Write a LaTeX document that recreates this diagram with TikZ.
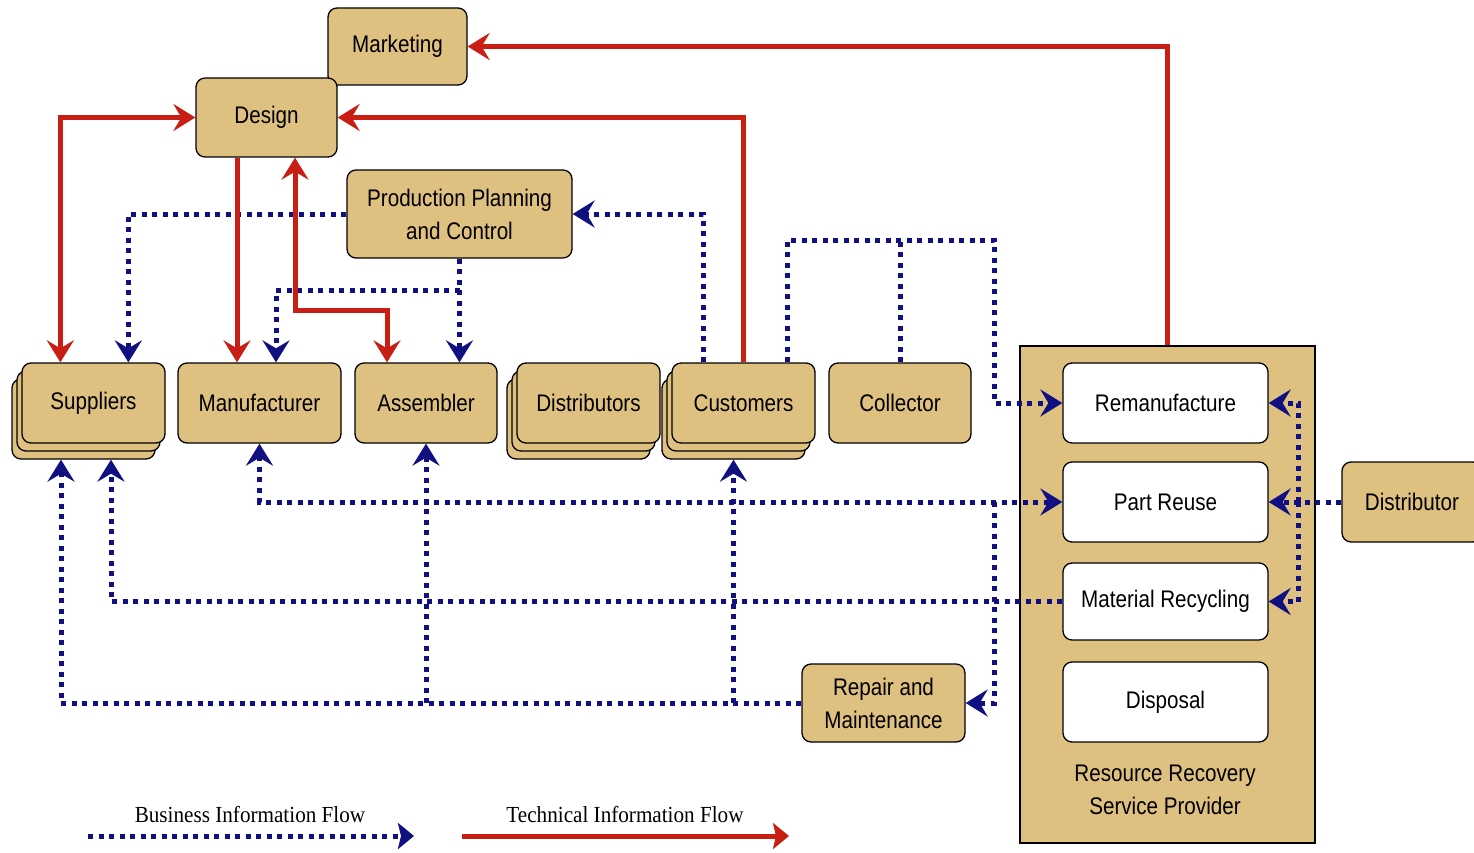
\documentclass[tikz,border=0pt]{standalone}
\usepackage{fontspec}
\setmainfont{Liberation Sans}[FakeStretch=0.86]
\newfontfamily\legendfont{Liberation Serif}[FakeStretch=0.92]
\usetikzlibrary{arrows.meta,calc}
\definecolor{boxtan}{RGB}{222,192,128}
\definecolor{techred}{RGB}{200,30,20}
\definecolor{biznavy}{RGB}{16,16,128}
\newcommand\boxtext{\fontsize{24}{33}\selectfont}
\begin{document}
\begin{tikzpicture}[x=1pt,y=-1pt,
  box/.style={draw=black, line width=1.3pt, fill=boxtan, rounded corners=9pt,
    inner sep=0pt, align=center, font=\boxtext},
  whitebox/.style={box, fill=white},
  layer/.style={box, minimum width=143pt, minimum height=80pt},
  plain/.style={draw=black, line width=1.3pt, fill=boxtan},
  biz/.style={draw=biznavy, line width=5pt, dash pattern=on 5pt off 5.5pt, line cap=butt,
    >={Stealth[length=22pt,width=27pt,inset=8pt]}},
  tech/.style={draw=techred, line width=5pt, line cap=butt,
    >={Stealth[length=22pt,width=27pt,inset=8pt]}},
  legtip/.style={>={Stealth[length=16pt,width=26pt,inset=3pt]}}
]
\useasboundingbox (0,0) rectangle (1474,853);
\clip (0,0) rectangle (1474,853);

% resource recovery container
\node[plain, minimum width=295pt, minimum height=497pt, inner sep=0pt] (rr) at (1167.5,594.5) {};
\node[font=\boxtext, align=center] (rrlabel) at (1165,790) {Resource Recovery\\Service Provider};

% upper boxes
\node[box, minimum width=139pt, minimum height=77pt] (mkt) at (397.5,46.5) {Marketing};
\node[box, minimum width=141pt, minimum height=79pt] (design) at (266.5,117.5) {Design};
\node[box, minimum width=225pt, minimum height=88pt] (ppc) at (459.5,214) {Production Planning\\and Control};

% stacked boxes: two layers behind the front one
\node[layer] (sup3) at (83.5,419) {};
\node[layer] (sup2) at (88.5,411) {};
\node[layer] (sup) at (93.5,403) {Suppliers};
\node[box, minimum width=163pt, minimum height=80pt] (manu) at (259.5,403) {Manufacturer};
\node[box, minimum width=142pt, minimum height=80pt] (asm) at (426,403) {Assembler};
\node[layer] (distr3) at (578.5,419) {};
\node[layer] (distr2) at (583.5,411) {};
\node[layer] (distr) at (588.5,403) {Distributors};
\node[layer] (cust3) at (733.5,419) {};
\node[layer] (cust2) at (738.5,411) {};
\node[layer] (cust) at (743.5,403) {Customers};
\node[box, minimum width=142pt, minimum height=80pt] (coll) at (900,403) {Collector};

% recovery options
\node[whitebox, minimum width=205pt, minimum height=80pt] (rem) at (1165.5,403) {Remanufacture};
\node[whitebox, minimum width=205pt, minimum height=80pt] (reuse) at (1165.5,502) {Part Reuse};
\node[whitebox, minimum width=205pt, minimum height=77pt] (recy) at (1165.5,601.5) {Material Recycling};
\node[whitebox, minimum width=205pt, minimum height=80pt] (disp) at (1165.5,702) {Disposal};

\node[box, minimum width=140pt, minimum height=80pt] (dist) at (1412,502) {Distributor};
\node[box, minimum width=163pt, minimum height=78pt] (rep) at (883.5,703) {Repair and\\Maintenance};

% business information flow
\draw[biz,->] (ppc.west) -| ([xshift=107pt]sup.north west);
\draw[biz,->] (ppc.south) -- (ppc.south |- asm.north);
\draw[biz,->] ([yshift=-32pt]ppc.south) -| ([xshift=16.5pt]manu.north);
\draw[biz,->] ([xshift=-40.5pt]cust.north) |- (ppc.east);
\draw[biz,->] ([xshift=43.5pt]cust.north) -- ++(0,-122) -| ([xshift=-68pt]rem.west) -- (rem.west);
\draw[biz] (coll.north) -- ++(0,-122);
\draw[biz,<->] (manu.south) |- (reuse.west);
\draw[biz,->] ([xshift=-68pt]reuse.west) |- (rep.east);
\draw[biz,->] (rep.west) -| ([xshift=-22.5pt]sup3.south);
\draw[biz,->] (rep.west -| asm.south) -- (asm.south);
\draw[biz,->] (rep.west -| cust3.south) -- (cust3.south);
\draw[biz,->] (recy.west) -| ([xshift=27.5pt]sup3.south);
\draw[biz,->] (dist.west) -- (reuse.east);
\draw[biz,->] ([xshift=30pt]reuse.east) |- (rem.east);
\draw[biz,->] ([xshift=30pt]reuse.east) |- (recy.east);

% technical information flow
\draw[tech,->] (rr.north) |- (mkt.east);
\draw[tech,->] (cust.north) |- (design.east);
\draw[tech,<->] (design.west) -| ([xshift=39pt]sup.north west);
\draw[tech,->] ([xshift=-29.5pt]design.south) -- ([xshift=-29.5pt]design.south |- manu.north);
\draw[tech,<->] ([xshift=28.5pt]design.south) -- ++(0,153) -| ([xshift=-39pt]asm.north);

% legend
\coordinate (b0) at (88,836);
\coordinate (b1) at (414,836);
\coordinate (t0) at (462,836);
\coordinate (t1) at (789,836);
\draw[biz,legtip,->] (b0) -- (b1);
\draw[tech,legtip,->] (t0) -- (t1);
\node[font=\legendfont\fontsize{23}{26}\selectfont] (blabel) at (250,815) {Business Information Flow};
\node[font=\legendfont\fontsize{23}{26}\selectfont] (tlabel) at (625,815) {Technical Information Flow};
\end{tikzpicture}
\end{document}
